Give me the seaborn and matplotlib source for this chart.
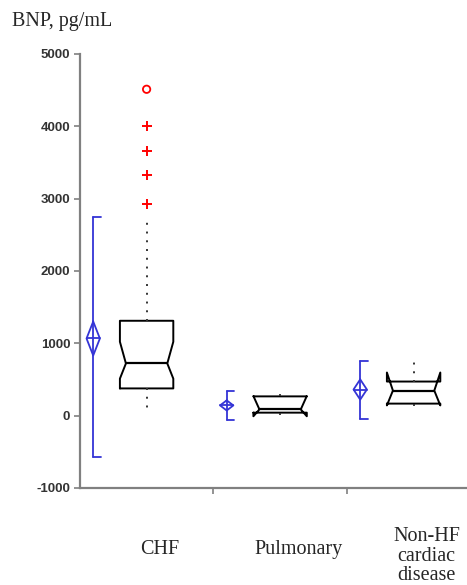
import matplotlib
matplotlib.use("Agg")
import matplotlib.pyplot as plt
import seaborn as sns
import pandas as pd

# values (BNP, pg/mL)
categories = ["CHF", "Pulmonary", "Non-HF\ncardiac\ndisease"]

# mean +/- SD (blue bars) and mean confidence diamonds
mean_vals = [1065, 140, 360]
sd_low = [-570, -55, -45]
sd_high = [2740, 345, 760]
diamond_low = [830, 70, 220]
diamond_high = [1300, 210, 500]

# notched box plots
q1 = [375, 40, 165]
median = [720, 85, 345]
q3 = [1310, 265, 470]
notch_low = [510, -10, 140]
notch_high = [1020, 270, 595]
whisker_low = [70, 10, 55]
whisker_high = [2700, 300, 760]

# CHF outliers
outlier_plus = [2920, 3330, 3650, 4000]
outlier_circle = [4510]

sns.set_style("white")
plt.rcParams["font.family"] = ["Liberation Sans", "DejaVu Sans"]
plt.rcParams["axes.unicode_minus"] = False

blue = "#3434d6"
grey = "#808080"

fig = plt.figure(figsize=(4.67, 5.85), dpi=100)
ax = fig.add_axes([0.171, 0.166, 0.829, 0.742])

box_half = 0.20
notch_half = 0.155
blue_off = -0.40
diam_half = 0.05
cap_len = 0.055

for i in range(len(categories)):
    # mean +/- SD bar with caps on the right side
    xb = i + blue_off
    ax.plot([xb, xb], [sd_low[i], sd_high[i]], color=blue, lw=1.3)
    ax.plot([xb, xb + cap_len], [sd_high[i], sd_high[i]], color=blue, lw=1.3)
    ax.plot([xb, xb + cap_len], [sd_low[i], sd_low[i]], color=blue, lw=1.3)
    # diamond
    ax.plot([xb, xb + diam_half, xb, xb - diam_half, xb],
            [diamond_high[i], mean_vals[i], diamond_low[i], mean_vals[i], diamond_high[i]],
            color=blue, lw=1.3)
    ax.plot([xb - diam_half, xb + diam_half], [mean_vals[i], mean_vals[i]], color=blue, lw=1.3)

    # notched box
    l, r = i - box_half, i + box_half
    nl, nr = i - notch_half, i + notch_half
    xs = [l, l, nl, l, l, r, r, nr, r, r, l]
    ys = [q1[i], notch_low[i], median[i], notch_high[i], q3[i],
          q3[i], notch_high[i], median[i], notch_low[i], q1[i], q1[i]]
    ax.plot(xs, ys, color="black", lw=1.4)
    ax.plot([nl, nr], [median[i], median[i]], color="black", lw=1.6)

    # dotted whiskers
    ax.plot([i, i], [q3[i], whisker_high[i]], color="#333333", lw=1.4, ls=(0, (1, 3.5)))
    ax.plot([i, i], [q1[i], whisker_low[i]], color="#333333", lw=1.4, ls=(0, (1, 3.5)))

df_plus = pd.DataFrame({"x": [0] * len(outlier_plus), "y": outlier_plus})
df_circ = pd.DataFrame({"x": [0] * len(outlier_circle), "y": outlier_circle})
sns.scatterplot(data=df_plus, x="x", y="y", marker="+", s=60, color="red",
                linewidth=1.4, ax=ax, legend=False)
sns.scatterplot(data=df_circ, x="x", y="y", marker="o", s=28, facecolor="none",
                edgecolor="red", linewidth=1.3, ax=ax, legend=False)

ax.set_xlim(-0.5, 2.4)
ax.set_ylim(-1000, 5000)
ax.set_yticks([-1000, 0, 1000, 2000, 3000, 4000, 5000])
ax.set_xticks([0.5, 1.5])
ax.set_xticklabels([])
ax.set_xlabel("")
ax.set_ylabel("")

for side in ["top", "right"]:
    ax.spines[side].set_visible(False)
for side in ["left", "bottom"]:
    ax.spines[side].set_color(grey)
    ax.spines[side].set_linewidth(1.6)

ax.tick_params(axis="y", direction="out", length=4, width=1.2, color=grey,
               labelsize=9.5, labelcolor="#333333", pad=3, left=True)
ax.tick_params(axis="x", direction="out", length=4, width=1.2, color=grey, bottom=True)
for lab in ax.get_yticklabels():
    lab.set_fontweight("bold")

# category labels below the axis
label_x = [0.097, 1.135, 2.097]
label_y = [-0.143, -0.143, -0.157]
for k, name in enumerate(categories):
    ax.text(label_x[k], label_y[k], name, transform=ax.get_xaxis_transform(),
            ha="center", va="center", fontsize=14.5, family="Liberation Serif",
            linespacing=1.05)

fig.text(0.025, 0.979, "BNP, pg/mL", ha="left", va="top", fontsize=14.5,
         family="Liberation Serif")

fig.savefig("out.png", dpi=100)
